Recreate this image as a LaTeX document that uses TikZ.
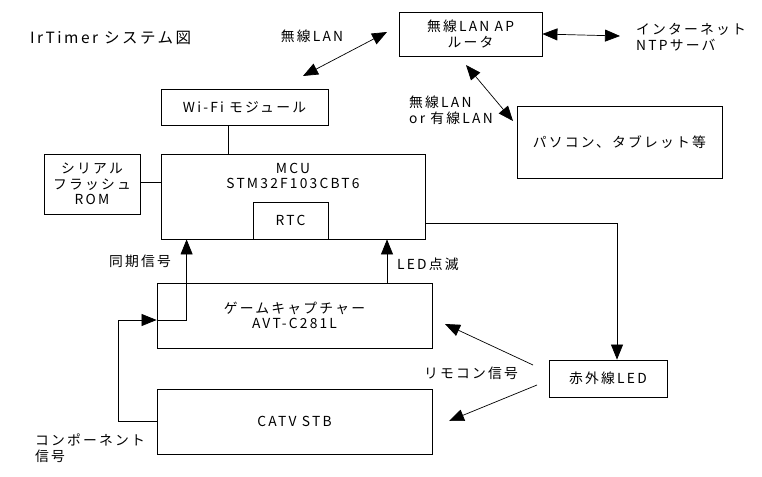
\documentclass[tikz,border=0pt]{standalone}
\usepackage{fontspec}
\setmainfont[LetterSpace=16]{Noto Sans CJK JP}
\usetikzlibrary{arrows.meta,positioning}
\tikzset{>={Triangle[length=15pt,width=12pt]}}

\begin{document}
\begin{tikzpicture}[x=1pt, y=-1pt, font=\fontsize{13.8}{15.5}\selectfont,
        box/.style={draw, line width=0.8pt, inner sep=2pt, align=center},
        link/.style={line width=0.7pt},
        lbl/.style={inner sep=0pt, align=left}]
            \useasboundingbox (0,0) rectangle (762,476);

            \node[lbl, anchor=west, font=\fontsize{15.5}{18}\selectfont] (title) at (30,38) {IrTimer システム図};

            \node[box, minimum width=167pt, minimum height=36pt] (wifi) at (244.5,107) {Wi-Fi モジュール};
            \node[box, minimum width=96pt, minimum height=60pt] (rom) at (92,184) {シリアル\\フラッシュ\\ROM};
            \node[box, minimum width=264pt, minimum height=85pt] (mcu) at (293,196.5) {};
            \node[lbl, align=center] (mcutxt) at (293,176) {MCU\\STM32F103CBT6};
            \node[box, minimum width=75pt, minimum height=37pt] (rtc) at (290.5,220.5) {RTC};
            \node[box, minimum width=143pt, minimum height=44pt] (ap) at (470.5,34) {無線LAN AP\\ルータ};
            \node[box, minimum width=205pt, minimum height=72pt] (pc) at (619.5,142) {パソコン、タブレット等};
            \node[box, minimum width=275pt, minimum height=65pt] (cap) at (294.5,315.5) {ゲームキャプチャー\\AVT-C281L};
            \node[box, minimum width=275pt, minimum height=65pt] (stb) at (294.5,421.5) {CATV STB};
            \node[box, minimum width=118pt, minimum height=37pt] (led) at (608,378.5) {赤外線LED};

            \node[lbl, anchor=west] (ntp) at (636,37) {インターネット\\NTPサーバ};
            \node[lbl] (wlan) at (312,36) {無線LAN};
            \node[lbl, anchor=west] (lan) at (409,110) {無線LAN\\or 有線LAN};
            \node[lbl] (sync) at (140,261) {同期信号};
            \node[lbl, anchor=west] (blink) at (397,264) {LED点滅};
            \node[lbl, anchor=west] (comp) at (35,448) {コンポーネント\\信号};
            \node[lbl] (remo) at (471,373) {リモコン信号};

            \coordinate (inet) at (620,36);
            \coordinate (wifiend) at (303,76);
            \coordinate (apend) at (387,32);
            \coordinate (aplow) at (466,65);
            \coordinate (pcend) at (513,121);
            \coordinate (irA) at (533,365);
            \coordinate (capend) at (445,324);
            \coordinate (irB) at (537,385);
            \coordinate (stbend) at (449,421);

            \draw[link] ([xshift=-16.5pt]wifi.south) -- ([xshift=-16.5pt]wifi.south |- mcu.north);
            \draw[link] ([yshift=2pt]rom.east) -- ([yshift=2pt]rom.east -| mcu.west);
            \draw[link, <->] (ap.east) -- (inet);
            \draw[link, <->] (wifiend) -- (apend);
            \draw[link, <->] (aplow) -- (pcend);
            \draw[link, ->] ([yshift=-26.5pt]mcu.east) -| ([xshift=9pt]led.north);
            \draw[link, ->] ([yshift=-4.5pt]cap.west) -| ([xshift=26pt]mcu.south west);
            \draw[link, ->] ([xshift=92.5pt]cap.north) -- ([xshift=92.5pt]cap.north |- mcu.south);
            \draw[link, ->] (stb.west) -- ++(-38,0) |- ([yshift=-4.5pt]cap.west);
            \draw[link, ->] (irA) -- (capend);
            \draw[link, ->] (irB) -- (stbend);
\end{tikzpicture}
\end{document}
